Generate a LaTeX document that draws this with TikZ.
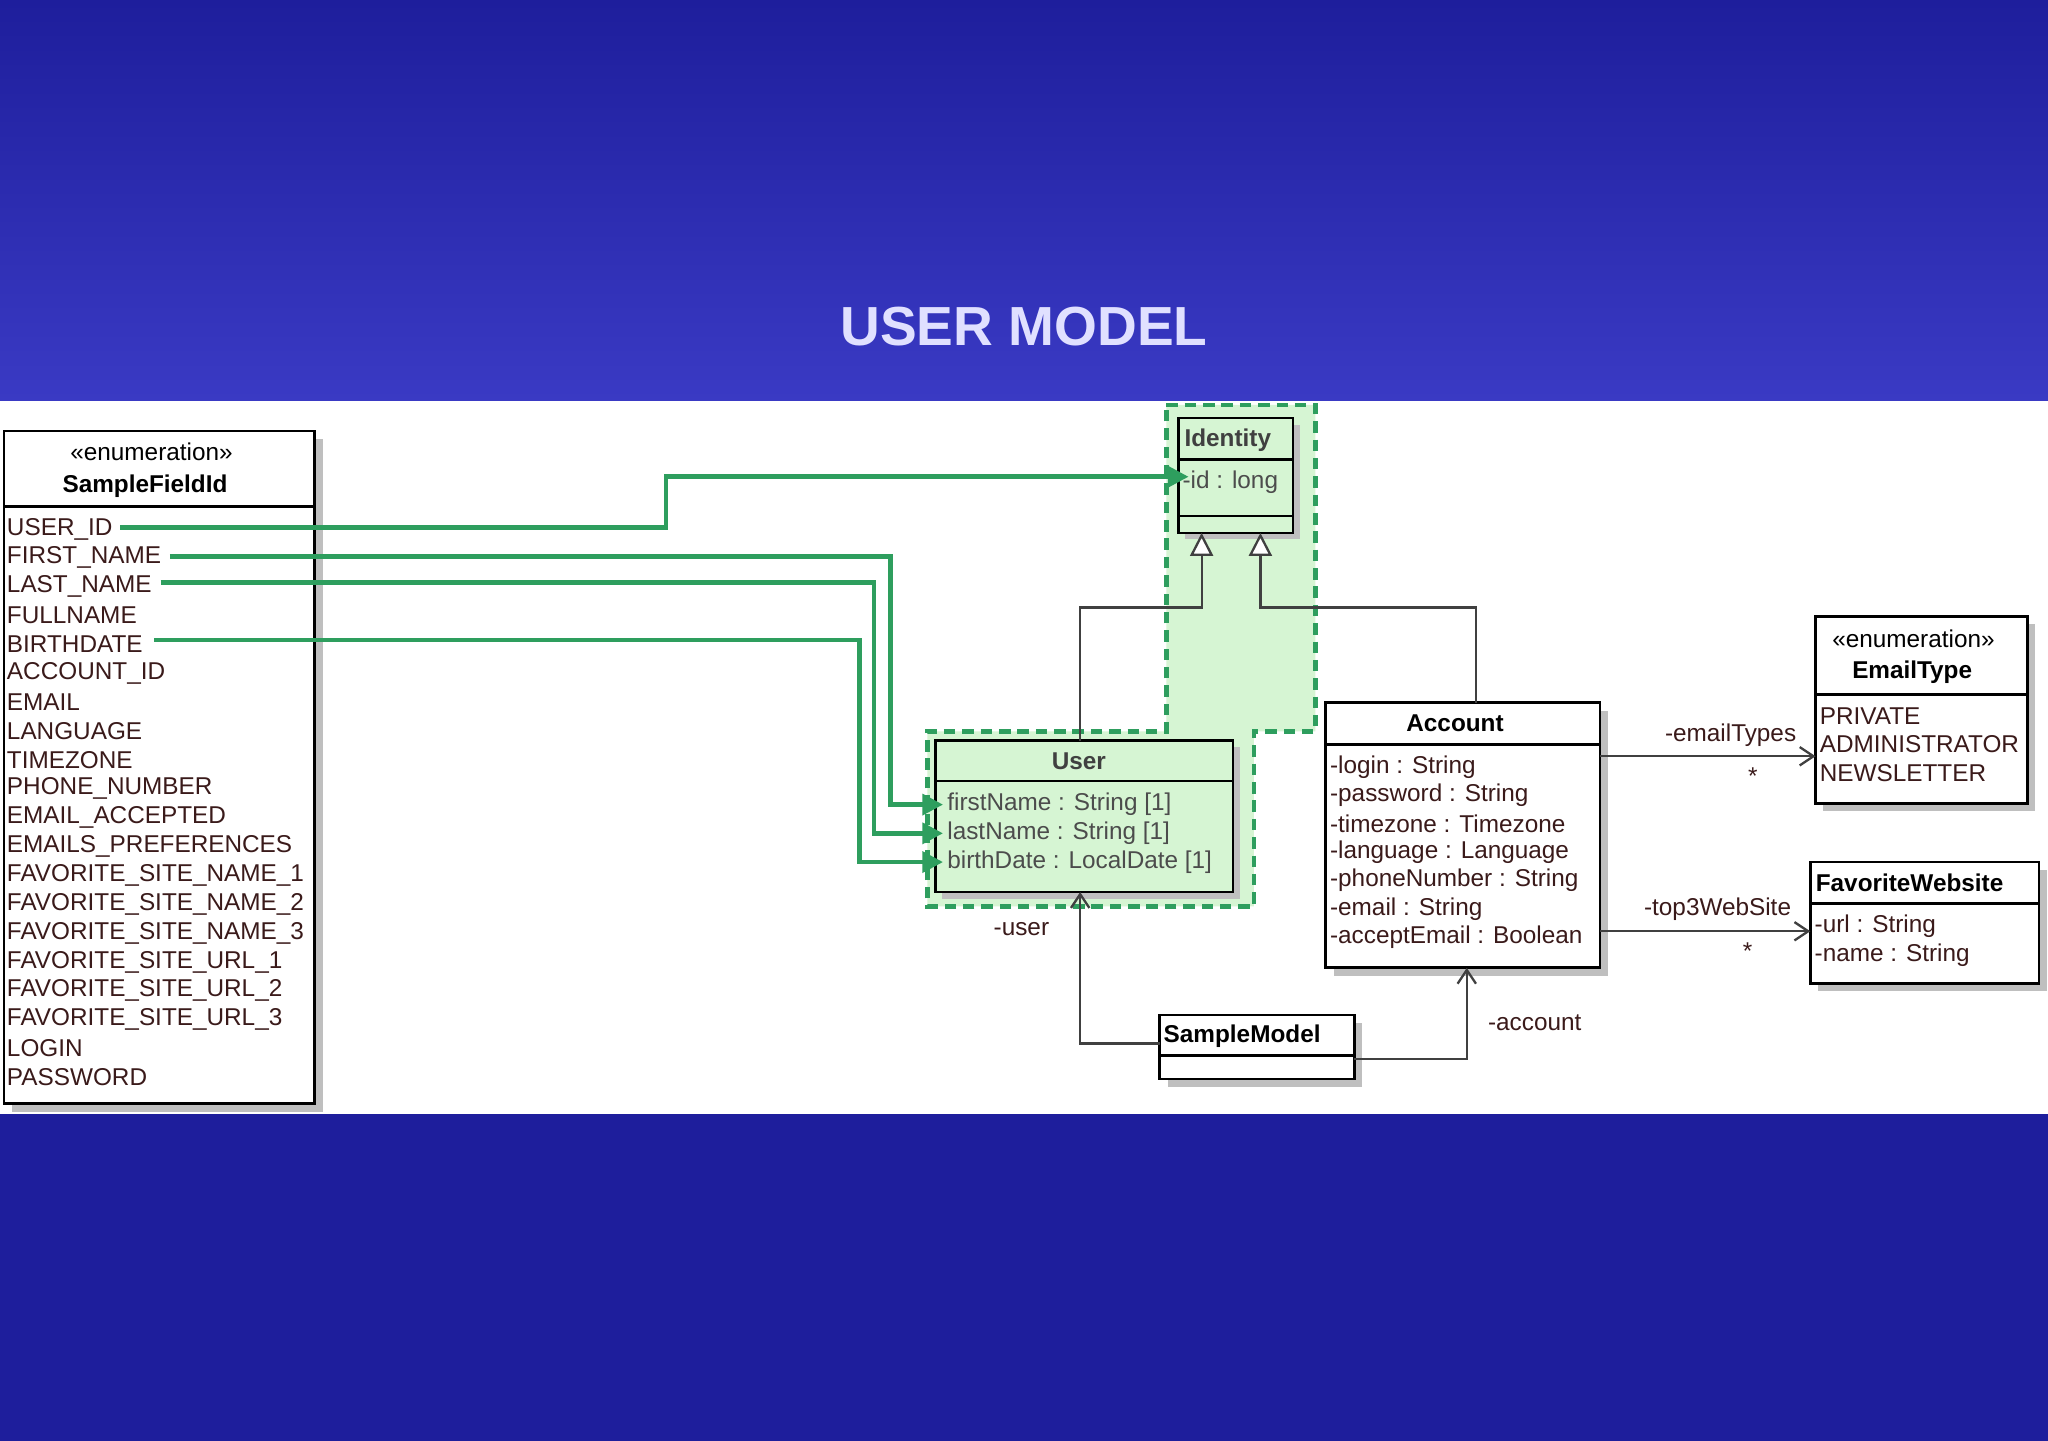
\documentclass[tikz,border=0pt]{standalone}
\usepackage{fontspec}
\setmainfont{Liberation Sans}
\usetikzlibrary{arrows.meta}
\definecolor{bgblue}{HTML}{1E1E9C}
\definecolor{bgtop}{HTML}{3A3AC4}
\definecolor{gline}{HTML}{2E9E5E}
\definecolor{gfill}{HTML}{D6F5D3}
\definecolor{txt}{HTML}{3A1A1A}
\tikzset{
 cls/.style={draw=black,line width=1.2pt,fill=white},
 shadowbox/.style={fill=black!25},
 itm/.style={anchor=west,inner sep=0pt,font=\fontsize{10.6}{12}\selectfont,text=txt},
 hdr/.style={inner sep=0pt,font=\fontsize{10.6}{12}\selectfont\bfseries},
 grn/.style={draw=gline,line width=2pt,-{Triangle[length=9pt,width=9pt]}},
 assoc/.style={draw=black!75,line width=1pt,-{Straight Barb[length=6pt,width=8pt]}},
 gen/.style={draw=black!75,line width=1pt,-{Triangle[open,length=10pt,width=10pt,fill=white]}},
}
\begin{document}
\begin{tikzpicture}[x=0.02cm,y=-0.02cm]
\useasboundingbox (0,0) rectangle (1568,1103);
\fill[bgblue] (0,0) rectangle (1568,1103);
\shade[top color=bgblue,bottom color=bgtop] (0,0) rectangle (1568,307);
\node[font=\fontsize{24}{26}\selectfont\bfseries,text=white!88!blue] (title) at (784,250) {USER MODEL};
\fill[white] (0,307) rectangle (1568,853);
% green region
\fill[gfill] (893,310)--(1007,310)--(1007,560)--(960,560)--(960,694)--(710,694)--(710,560)--(893,560)--cycle;
\draw[gline,line width=2pt,dash pattern=on 5pt off 3pt] (893,310)--(1007,310)--(1007,560)--(960,560)--(960,694)--(710,694)--(710,560)--(893,560)--cycle;
% SampleFieldId
\fill[shadowbox] (9,336) rectangle (247,851);
\draw[cls] (3,330) rectangle (241,845);
\draw[line width=1.2pt] (3,388)--(241,388);
\node[inner sep=0pt,font=\fontsize{10.6}{12}\selectfont] (sfs) at (116,346) {«enumeration»};
\node[hdr] (sfid) at (111,372) {SampleFieldId};
\foreach \t [count=\i from 0] in {USER\_ID,FIRST\_NAME,LAST\_NAME,FULLNAME,BIRTHDATE,ACCOUNT\_ID,EMAIL,LANGUAGE,TIMEZONE,PHONE\_NUMBER,EMAIL\_ACCEPTED,EMAILS\_PREFERENCES,FAVORITE\_SITE\_NAME\_1,FAVORITE\_SITE\_NAME\_2,FAVORITE\_SITE\_NAME\_3,FAVORITE\_SITE\_URL\_1,FAVORITE\_SITE\_URL\_2,FAVORITE\_SITE\_URL\_3,LOGIN,PASSWORD}
  \node[itm] (f\i) at (5,{405+\i*22.1}) {\t};
% Identity
\fill[shadowbox] (907,325) rectangle (995,413);
\draw[cls,fill=gfill] (902,320) rectangle (990,408);
\draw[line width=1.2pt] (902,352)--(990,352) (902,395)--(990,395);
\node[hdr,text=black!75] (idh) at (940,337) {Identity};
\node[itm,text=black!70] (idf) at (905,369) {-id : long};
% User
\fill[shadowbox] (721,572) rectangle (949,688);
\draw[cls,fill=gfill] (716,567) rectangle (944,683);
\draw[line width=1.2pt] (716,598)--(944,598);
\node[hdr,text=black!75] (uh) at (826,583) {User};
\node[itm,text=black!70] (u1) at (725,616) {firstName : String [1]};
\node[itm,text=black!70] (u2) at (725,638) {lastName : String [1]};
\node[itm,text=black!70] (u3) at (725,660) {birthDate : LocalDate [1]};
% Account
\fill[shadowbox] (1021,544) rectangle (1231,747);
\draw[cls] (1015,538) rectangle (1225,741);
\draw[line width=1.2pt] (1015,570)--(1225,570);
\node[hdr] (ah) at (1114,554) {Account};
\foreach \t [count=\i from 0] in {-login : String,-password : String,-timezone : Timezone,-language : Language,-phoneNumber : String,-email : String,-acceptEmail : Boolean}
  \node[itm] (a\i) at (1018,{587+\i*21.8}) {\t};
% EmailType
\fill[shadowbox] (1396,478) rectangle (1558,621);
\draw[cls] (1390,472) rectangle (1552,615);
\draw[line width=1.2pt] (1390,532)--(1552,532);
\node[inner sep=0pt,font=\fontsize{10.6}{12}\selectfont] (es) at (1465,489) {«enumeration»};
\node[hdr] (eh) at (1464,515) {EmailType};
\node[itm] (e1) at (1393,548) {PRIVATE};
\node[itm] (e2) at (1393,570) {ADMINISTRATOR};
\node[itm] (e3) at (1393,592) {NEWSLETTER};
% FavoriteWebsite
\fill[shadowbox] (1392,666) rectangle (1567,759);
\draw[cls] (1386,660) rectangle (1561,753);
\draw[line width=1.2pt] (1386,692)--(1561,692);
\node[hdr] (fh) at (1462,676) {FavoriteWebsite};
\node[itm] (fw1) at (1389,709) {-url : String};
\node[itm] (fw2) at (1389,731) {-name : String};
% SampleModel
\fill[shadowbox] (894,783) rectangle (1043,832);
\draw[cls] (888,777) rectangle (1037,826);
\draw[line width=1.2pt] (888,808)--(1037,808);
\node[hdr] (sh) at (951,793) {SampleModel};
% coordinates
\coordinate (idL) at (920,408);
\coordinate (idR) at (965,408);
\coordinate (uT) at (827,567);
\coordinate (uB) at (827,683);
\coordinate (aT) at (1130,538);
\coordinate (aB) at (1123,741);
% generalization
\draw[gen] (uT)--(827,465)--(920,465)--(idL);
\draw[gen] (aT)--(1130,465)--(965,465)--(idR);
% green arrows
\draw[grn] (92,404)--(510,404)--(510,365)--(910,365);
\draw[grn] (130,426)--(682,426)--(682,616)--(722,616);
\draw[grn] (123,446)--(669,446)--(669,638)--(722,638);
\draw[grn] (118,490)--(658,490)--(658,660)--(722,660);
% associations
\draw[assoc] (888,799)--(827,799)--(uB);
\draw[assoc] (1037,811)--(1123,811)--(aB);
\draw[assoc] (1225,579)--(1390,579);
\draw[assoc] (1225,713)--(1386,713);
\node[itm,anchor=center] (lu) at (782,711) {-user};
\node[itm,anchor=center] (la) at (1175,783) {-account};
\node[itm,anchor=center] (le) at (1325,563) {-emailTypes};
\node[itm,anchor=center] (les) at (1342,594) {*};
\node[itm,anchor=center] (lt) at (1315,696) {-top3WebSite};
\node[itm,anchor=center] (lts) at (1338,728) {*};
\end{tikzpicture}
\end{document}
